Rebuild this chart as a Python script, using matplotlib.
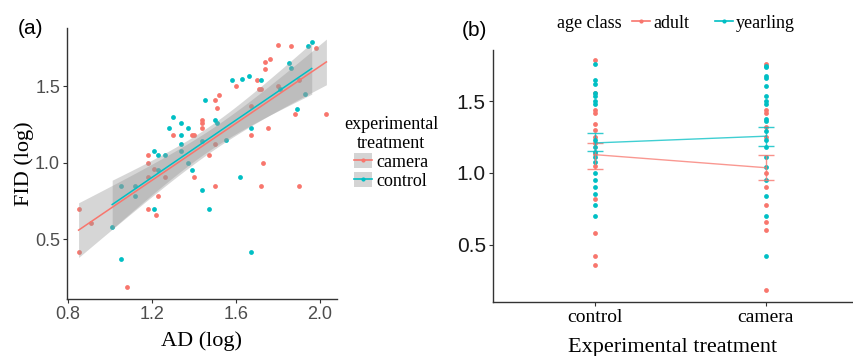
import matplotlib
matplotlib.use("Agg")
import matplotlib.pyplot as plt
import numpy as np
from matplotlib.lines import Line2D
from matplotlib.patches import Patch

# (a) AD vs FID by experimental treatment
camera_ad = [0.85, 0.85, 0.91, 1.08, 1.18, 1.18, 1.18, 1.18, 1.21, 1.22, 1.23, 1.26, 1.30, 1.39, 1.40,
             1.40, 1.44, 1.44, 1.44, 1.47, 1.50, 1.50, 1.50, 1.51, 1.52, 1.60, 1.67, 1.67, 1.70, 1.71,
             1.72, 1.72, 1.73, 1.74, 1.74, 1.76, 1.75, 1.80, 1.80, 1.86, 1.88, 1.90, 1.90, 1.98, 2.03]
camera_fid = [0.70, 0.42, 0.61, 0.19, 1.05, 1.00, 0.91, 0.70, 0.96, 0.66, 0.78, 0.91, 1.18, 1.18, 1.18,
              0.91, 1.28, 1.26, 1.23, 1.05, 1.41, 0.85, 1.12, 1.36, 1.44, 1.50, 1.37, 1.18, 1.54, 1.48,
              1.48, 0.85, 1.00, 1.61, 1.66, 1.68, 1.23, 1.50, 1.77, 1.76, 1.32, 0.85, 1.54, 1.75, 1.32]
control_ad = [1.01, 1.05, 1.05, 1.12, 1.12, 1.21, 1.21, 1.23, 1.23, 1.26, 1.28, 1.30, 1.34, 1.37, 1.34,
              1.34, 1.34, 1.37, 1.39, 1.44, 1.45, 1.44, 1.47, 1.50, 1.51, 1.55, 1.58, 1.62, 1.63, 1.66,
              1.67, 1.67, 1.72, 1.85, 1.86, 1.81, 1.89, 1.93, 1.94, 1.96]
control_fid = [0.58, 0.85, 0.37, 0.85, 0.78, 1.08, 0.70, 1.05, 0.95, 1.05, 1.23, 1.30, 1.26, 1.23, 1.18,
               1.12, 1.08, 1.00, 0.95, 0.82, 1.41, 1.14, 0.70, 1.28, 1.26, 1.15, 1.54, 0.91, 1.55, 1.57,
               1.23, 0.42, 1.54, 1.65, 1.62, 1.48, 1.35, 1.45, 1.76, 1.79]

# (b) FID by treatment and age class
treatments = ["control", "camera"]
ctrl_adult = [1.79, 1.56, 1.44, 1.42, 1.34, 1.30, 1.25, 1.21, 1.13, 1.05, 0.82, 0.58, 0.42, 0.36]
ctrl_year = [1.76, 1.65, 1.62, 1.56, 1.54, 1.50, 1.48, 1.23, 1.18, 1.15, 1.11, 1.08, 1.00, 0.95, 0.90,
             0.85, 0.78, 0.70]
cam_adult = [1.76, 1.44, 1.42, 1.32, 1.25, 1.00, 0.90, 0.78, 0.66, 0.60, 0.18]
cam_year = [1.75, 1.74, 1.68, 1.66, 1.61, 1.54, 1.50, 1.48, 1.38, 1.36, 1.29, 1.23, 1.18, 1.11, 1.04,
            0.95, 0.84, 0.70, 0.42]
adult_mean = [1.128, 1.037]
adult_lo = [1.030, 0.951]
adult_hi = [1.210, 1.124]
year_mean = [1.210, 1.257]
year_lo = [1.152, 1.187]
year_hi = [1.278, 1.318]

RED = "#F8766D"
CYAN = "#00BFC4"
SERIF = "Liberation Serif"
SANS = "Liberation Sans"
T_CRIT = 2.02

fig = plt.figure(figsize=(8.54, 3.56), dpi=100)
ax1 = fig.add_axes([0.0785, 0.160, 0.316, 0.761])
ax2 = fig.add_axes([0.577, 0.152, 0.4215, 0.708])


def lm_band(ax, x, y, color):
    x = np.asarray(x)
    y = np.asarray(y)
    slope, icpt = np.polyfit(x, y, 1)
    xs = np.linspace(x.min(), x.max(), 80)
    fit = icpt + slope * xs
    resid = y - (icpt + slope * x)
    n = len(x)
    s = np.sqrt(np.sum(resid ** 2) / (n - 2))
    se = s * np.sqrt(1.0 / n + (xs - x.mean()) ** 2 / np.sum((x - x.mean()) ** 2))
    ax.fill_between(xs, fit - T_CRIT * se, fit + T_CRIT * se, color="#999999", alpha=0.4,
                    linewidth=0, zorder=3)
    ax.plot(xs, fit, color=color, lw=1.1, zorder=4)


# 散点
ax1.scatter(camera_ad, camera_fid, s=12, color=RED, linewidths=0, zorder=2)
ax1.scatter(control_ad, control_fid, s=12, color=CYAN, linewidths=0, zorder=2)
lm_band(ax1, camera_ad, camera_fid, RED)
lm_band(ax1, control_ad, control_fid, CYAN)

ax1.set_xlim(0.795, 2.08)
ax1.set_ylim(0.11, 1.88)
ax1.set_xticks([0.8, 1.2, 1.6, 2.0])
ax1.set_xticklabels(["0.8", "1.2", "1.6", "2.0"])
ax1.set_yticks([0.5, 1.0, 1.5])
ax1.set_yticklabels(["0.5", "1.0", "1.5"])
ax1.set_xlabel("AD (log)", family=SERIF, fontsize=16, labelpad=6)
ax1.set_ylabel("FID (log)", family=SERIF, fontsize=16, labelpad=1)

h_cam = (Patch(facecolor="#d4d4d4", edgecolor="none"),
         Line2D([], [], color=RED, lw=1.2, marker="o", ms=3, mec="none"))
h_ctl = (Patch(facecolor="#d4d4d4", edgecolor="none"),
         Line2D([], [], color=CYAN, lw=1.2, marker="o", ms=3, mec="none"))
leg1 = fig.legend([h_cam, h_ctl], ["camera", "control"], loc="upper left",
                  bbox_to_anchor=(0.388, 0.71), frameon=False, title="experimental\ntreatment",
                  prop={"family": SERIF, "size": 13}, handlelength=1.0, handletextpad=0.2,
                  labelspacing=0.05, borderpad=0.2, handleheight=0.9)
leg1.get_title().set_fontfamily(SERIF)
leg1.get_title().set_fontsize(13)
leg1.get_title().set_multialignment("center")

# (b)
for vals, col, xp in [(ctrl_adult, RED, 1), (ctrl_year, CYAN, 1), (cam_adult, RED, 2), (cam_year, CYAN, 2)]:
    ax2.scatter([xp] * len(vals), vals, s=12, color=col, linewidths=0, zorder=2)

xpos = [1, 2]
for m, lo, hi, col in [(adult_mean, adult_lo, adult_hi, RED), (year_mean, year_lo, year_hi, CYAN)]:
    m = np.array(m)
    ax2.plot(xpos, m, color=col, lw=1.0, alpha=0.75, zorder=3)
    ax2.errorbar(xpos, m, yerr=[m - np.array(lo), np.array(hi) - m], fmt="none", ecolor=col,
                 elinewidth=1.0, capsize=6, capthick=1.0, alpha=0.8, zorder=3)

ax2.set_xlim(0.40, 2.51)
ax2.set_ylim(0.10, 1.86)
ax2.set_xticks(xpos)
ax2.set_xticklabels(treatments, family=SERIF, fontsize=14)
ax2.set_yticks([0.5, 1.0, 1.5])
ax2.set_yticklabels(["0.5", "1.0", "1.5"])
ax2.set_xlabel("Experimental treatment", family=SERIF, fontsize=16, labelpad=9)

h_ad = Line2D([], [], color=RED, lw=1.2, marker="o", ms=3, mec="none")
h_yr = Line2D([], [], color=CYAN, lw=1.2, marker="o", ms=3, mec="none")
fig.legend([h_ad, h_yr], ["adult", "yearling"], ncol=2, loc="center left",
           bbox_to_anchor=(0.729, 1 - 23 / 356), frameon=False, prop={"family": SERIF, "size": 13},
           handlelength=1.0, handletextpad=0.2, columnspacing=1.4, borderpad=0)
fig.text(557 / 854, 1 - 23 / 356, "age class", family=SERIF, fontsize=13, ha="left", va="center")

for ax, tcol, fs in [(ax1, "#4d4d4d", 13), (ax2, "#1a1a1a", 15)]:
    for sp in ["top", "right"]:
        ax.spines[sp].set_visible(False)
    for sp in ["left", "bottom"]:
        ax.spines[sp].set_color("#333333")
        ax.spines[sp].set_linewidth(1.0)
    ax.tick_params(length=3, width=0.8, color="#333333", pad=2)
    for lab in ax.get_yticklabels():
        lab.set_family(SANS)
        lab.set_fontsize(fs)
        lab.set_color(tcol)
ax1.tick_params(axis="x", labelsize=13, labelcolor="#4d4d4d")
for lab in ax1.get_xticklabels():
    lab.set_family(SANS)

fig.text(18 / 854, 1 - 28 / 356, "(a)", family=SANS, fontsize=15, va="center")
fig.text(462 / 854, 1 - 30 / 356, "(b)", family=SANS, fontsize=15, va="center")

plt.savefig("out.png", dpi=100)
